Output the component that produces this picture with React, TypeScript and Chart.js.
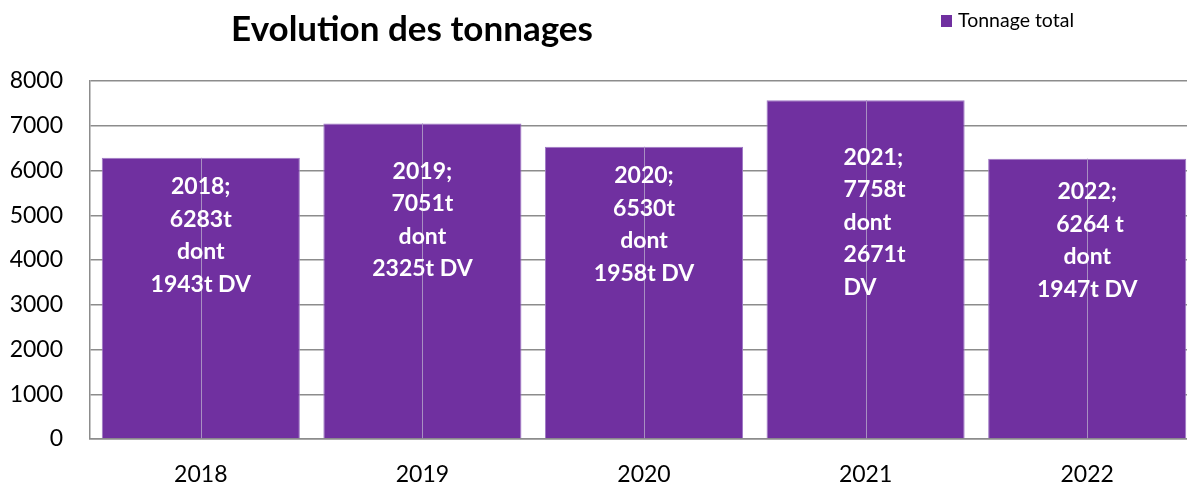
import React, { useEffect, useRef } from "react";
import { Chart, registerables } from "chart.js";

Chart.register(...registerables);

const years = ["2018", "2019", "2020", "2021", "2022"];
const tonnage = [6283, 7051, 6530, 7570, 6264];
const labelLines = [
  ["2018;", "6283t", "dont", "1943t DV"],
  ["2019;", "7051t", "dont", "2325t DV"],
  ["2020;", "6530t", "dont", "1958t DV"],
  ["2021;", "7758t", "dont", "2671t", "DV"],
  ["2022;", " 6264 t", "dont", "1947t DV"],
];
const seriesName = "Tonnage total";
const chartTitle = "Evolution des tonnages";

const PURPLE = "#7030A0";
const FONT = "Lato, 'Open Sans', sans-serif";

const barDecor = {
  id: "barDecor",
  afterDatasetsDraw(chart: any, _args: any, opts: any) {
    const ctx = chart.ctx;
    const meta = chart.getDatasetMeta(0);
    ctx.save();
    meta.data.forEach((el: any, i: number) => {
      ctx.strokeStyle = "#a88fc2";
      ctx.lineWidth = 1;
      const cx = Math.round(el.x) + 0.5;
      ctx.beginPath();
      ctx.moveTo(cx, el.y);
      ctx.lineTo(cx, el.base);
      ctx.stroke();

      const lines: string[] = opts.lines[i];
      ctx.font = `bold ${opts.fontSize}px ${FONT}`;
      ctx.fillStyle = "#ffffff";
      ctx.textBaseline = "middle";
      const align = opts.align[i];
      const x = el.x + opts.xShift[i];
      ctx.textAlign = align === "left" ? "left" : "center";
      lines.forEach((ln, k) => {
        const y = el.y + opts.firstLineOffset[i] + k * opts.lineHeight;
        ctx.fillText(ln, x, y);
      });
    });
    ctx.restore();
  },
};

const titleLegend = {
  id: "titleLegend",
  afterDraw(chart: any, _args: any, opts: any) {
    const ctx = chart.ctx;
    ctx.save();
    ctx.fillStyle = "#000";
    ctx.font = `bold ${opts.titleSize}px ${FONT}`;
    ctx.textAlign = "center";
    ctx.textBaseline = "middle";
    ctx.fillText(opts.title, opts.titleX, opts.titleY);

    const ds = chart.data.datasets[0];
    ctx.fillStyle = ds.backgroundColor;
    ctx.fillRect(opts.legendX, opts.legendY - 6, 11, 12);
    ctx.fillStyle = "#000";
    ctx.font = `${opts.legendSize}px ${FONT}`;
    ctx.textAlign = "left";
    ctx.fillText(ds.label, opts.legendX + 17, opts.legendY);
    ctx.restore();
  },
};

export default function App() {
  const ref = useRef<HTMLCanvasElement>(null);

  useEffect(() => {
    if (!ref.current) return;
    const chart = new Chart(ref.current, {
      type: "bar",
      data: {
        labels: years,
        datasets: [
          {
            label: seriesName,
            data: tonnage,
            backgroundColor: PURPLE,
            borderColor: "#9e78c4",
            borderWidth: 1,
            categoryPercentage: 1,
            barPercentage: 0.894,
          },
        ],
      },
      options: {
        responsive: false,
        animation: false,
        layout: { padding: { top: 81, right: 0, left: 0, bottom: 0 } },
        scales: {
          x: {
            grid: { display: false, drawTicks: false },
            border: { display: true, color: "#8c8c8c", width: 1.5 },
            ticks: {
              color: "#000",
              font: { family: FONT, size: 23 },
              padding: 22,
            },
            afterFit: (s: any) => {
              s.height = 46;
            },
          },
          y: {
            min: 0,
            max: 8000,
            ticks: {
              stepSize: 1000,
              color: "#000",
              font: { family: FONT, size: 23 },
              padding: 27,
              callback: (v: any) => String(v),
            },
            grid: { color: "#8c8c8c", lineWidth: 1.5, drawTicks: false },
            border: { display: true, color: "#8c8c8c", width: 1.5 },
            afterFit: (s: any) => {
              s.width = 90;
            },
          },
        },
        plugins: {
          legend: { display: false },
          title: { display: false },
          tooltip: { enabled: false },
          barDecor: {
            lines: labelLines,
            fontSize: 23,
            lineHeight: 32.5,
            firstLineOffset: [29, 48, 29, 57, 33],
            align: ["center", "center", "center", "left", "center"],
            xShift: [0, 0, 0, -22, 0],
          },
          titleLegend: {
            title: chartTitle,
            titleSize: 35,
            titleX: 412,
            titleY: 30,
            legendX: 941,
            legendY: 21,
            legendSize: 19.5,
          },
        } as any,
      },
      plugins: [barDecor, titleLegend],
    });
    return () => chart.destroy();
  }, []);

  return (
    <div
      style={{
        position: "absolute",
        left: 0,
        top: 0,
        width: 1187,
        height: 485,
        overflow: "hidden",
        background: "#fff",
      }}
    >
      <canvas ref={ref} width={1198} height={485} style={{ display: "block" }} />
    </div>
  );
}
